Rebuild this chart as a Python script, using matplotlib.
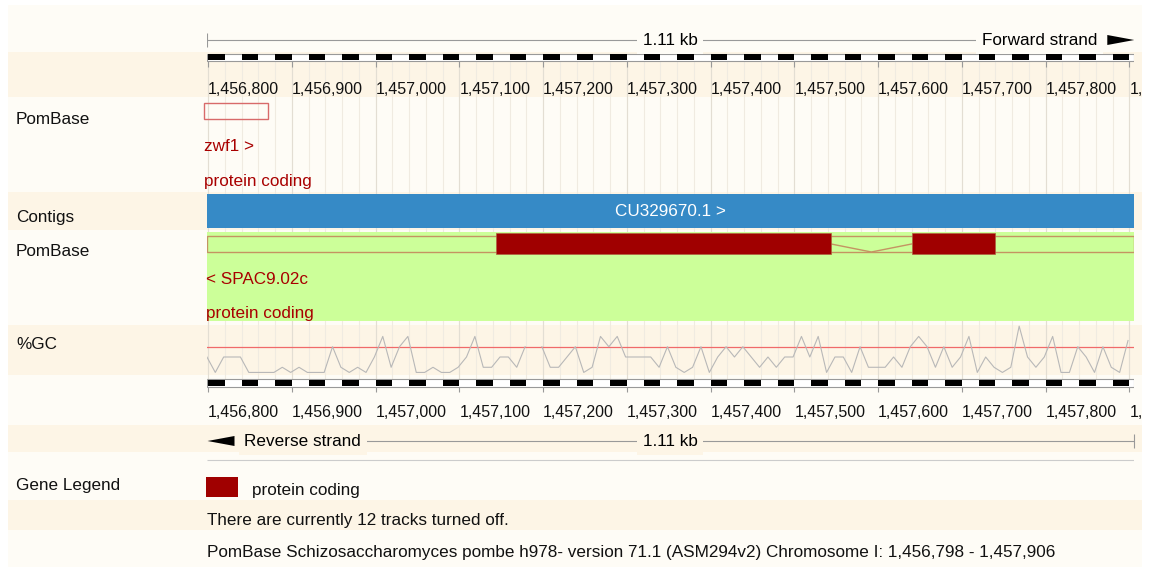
import numpy as np
import matplotlib.pyplot as plt
from matplotlib.patches import Rectangle, Polygon
from matplotlib.transforms import Bbox, TransformedBbox

plt.rcParams['font.family'] = ['Liberation Sans', 'DejaVu Sans']

# region shown (bp)
region_start = 1456798
region_end = 1457906
region_label = '1.11 kb'
ruler_ticks = [1456800, 1456900, 1457000, 1457100, 1457200, 1457300,
               1457400, 1457500, 1457600, 1457700, 1457800, 1457900]
track_labels = ['PomBase', 'Contigs', 'PomBase', '%GC', 'Gene Legend']

contig_name = 'CU329670.1 >'
zwf1_name = 'zwf1 >'
zwf1_utr = (1456795, 1456871)
spac_name = '< SPAC9.02c'
spac_utr = (1456798, 1457906)
spac_exons = [(1457144, 1457544), (1457640, 1457740)]
biotype = 'protein coding'

# %GC per 10 bp window (nan = no value)
gc_first = 1456798.5
gc_window = 10
gc_percent = [40, 25, 40, 40, 40, 25, 25, 25, 25, 30,
              25, 30, 25, 25, 25, 50, 30, 25, 30, 25,
              40, 60, 30, 50, 60, 25, 25, 30, 25, 25,
              30, 40, 60, 30, 30, 40, 40, 30, 50, np.nan,
              50, 30, 30, 40, 50, 25, 30, 60, 50, 60,
              40, 40, 40, 40, 30, 50, 30, 25, 30, 50,
              25, 40, 50, 40, 50, 40, 30, 40, 30, 40,
              40, 60, 40, 60, 25, 40, 40, 25, 50, 30,
              30, 30, 40, 30, 50, 60, 50, 30, 50, 30,
              40, 60, 25, 40, 30, 25, 30, 70, 40, 30,
              40, 60, 25, 25, 50, 40, 25, 50, 30, 25,
              56]

footer_1 = 'There are currently 12 tracks turned off.'
footer_2 = ('PomBase Schizosaccharomyces pombe h978- version 71.1 (ASM294v2) '
            'Chromosome I: 1,456,798 - 1,457,906')

W, H = 1155, 567
X0, X1 = 206.5, 1134.3
light, dark = '#fefcf6', '#fdf5e6'
red_text = '#a80000'
gene_red = '#a00000'
grey = '#999999'
FS = 12.3
TICK_FS = 11.5

fig = plt.figure(figsize=(W / 100, H / 100), dpi=100)
fig.patch.set_facecolor('white')

# background bands and left labels (pixel coords)
bg = fig.add_axes([0, 0, 1, 1])
bg.set_xlim(0, W)
bg.set_ylim(H, 0)
bg.set_axis_off()
bands = [(5, 52, light), (52, 97, dark), (97, 192, light), (192, 230, dark),
         (230, 325, light), (325, 375, dark), (375, 425, light), (425, 452, dark),
         (452, 500, light), (500, 530, dark), (530, 567, light)]
for top, bot, c in bands:
    bg.add_patch(Rectangle((8, top), 1134, bot - top, fc=c, ec='none'))

for lab, yb in zip(track_labels, [124, 222, 256, 349, 490]):
    bg.text(16, yb, lab, fontsize=FS, va='baseline', color='#111111')

bg.add_patch(Rectangle((206, 477), 32, 20, fc=gene_red, ec='none'))
bg.text(252, 495, biotype, fontsize=FS, va='baseline', color='#111111')
bg.text(207, 525, footer_1, fontsize=FS, va='baseline', color='#111111')
bg.text(207, 557, footer_2, fontsize=FS, va='baseline', color='#111111')

# genome track axes: x in bp, y in pixel rows
tr = fig.add_axes([X0 / W, 0, (X1 - X0) / W, 1])
tr.set_xlim(region_start, region_end)
tr.set_ylim(H, 0)
tr.set_axis_off()
tr.patch.set_alpha(0)
bpx = (region_end - region_start) / (X1 - X0)
mid = (region_start + region_end) / 2
clipbox = TransformedBbox(Bbox.from_extents(0, 0, 1141 / W, 1), fig.transFigure)

# faint grid
grid = np.arange(ruler_ticks[0], region_end, 20)
tr.vlines(grid, 61, 387, color='#f0ebe1', lw=0.8, zorder=0)
tr.vlines(ruler_ticks, 61, 387, color='#e3ded3', lw=0.8, zorder=0)


def ruler(y_bar, y_lab):
    tr.add_patch(Rectangle((region_start, y_bar), region_end - region_start, 7.5,
                           fc='white', ec=grey, lw=0.8, zorder=3))
    for b in range(ruler_ticks[0], region_end, 40):
        tr.add_patch(Rectangle((b, y_bar + 0.8), min(20, region_end - b), 6,
                               fc='black', ec='none', zorder=4))
    tr.vlines(ruler_ticks, y_bar + 7.5, y_bar + 13, color=grey, lw=0.8, zorder=3)
    for t in ruler_ticks:
        txt = tr.text(t, y_lab, f'{t:,}', fontsize=TICK_FS, va='baseline', ha='left',
                      color='#111111')
        # the last label runs off the panel edge, as in the browser image
        txt.set_clip_on(True)
        txt.set_clip_path(None)
        txt.set_clip_box(clipbox)


ruler(53.5, 94)
ruler(379, 417)

# forward strand header
tr.hlines(40, region_start, region_end - 40 * bpx, color=grey, lw=0.8)
tr.vlines(region_start, 33, 47, color=grey, lw=0.8)
tr.text(mid, 45, region_label, ha='center', va='baseline', fontsize=FS,
        bbox=dict(fc=light, ec='none', pad=4))
tr.text(region_end - 37 * bpx, 45, 'Forward strand', ha='right', va='baseline',
        fontsize=FS, bbox=dict(fc=light, ec='none', pad=4))
tr.add_patch(Polygon([(region_end - 27 * bpx, 35), (region_end, 40),
                      (region_end - 27 * bpx, 45)], fc='black', ec='none'))

# reverse strand footer
tr.hlines(441, region_start + 40 * bpx, region_end, color=grey, lw=0.8)
tr.vlines(region_end, 434, 448, color=grey, lw=0.8, clip_on=False)
tr.text(mid, 446, region_label, ha='center', va='baseline', fontsize=FS,
        bbox=dict(fc=dark, ec='none', pad=4))
tr.text(region_start + 38 * bpx, 446, 'Reverse strand', ha='left', va='baseline',
        fontsize=FS, bbox=dict(fc=dark, ec='none', pad=4))
tr.add_patch(Polygon([(region_start + 28 * bpx, 436), (region_start + 1 * bpx, 441),
                      (region_start + 28 * bpx, 446)], fc='black', ec='none'))
tr.hlines(460, region_start, region_end, color='#cccccc', lw=0.8)

# zwf1
tr.add_patch(Rectangle((zwf1_utr[0], 103), zwf1_utr[1] - zwf1_utr[0], 16,
                       fill=False, ec='#d86a6a', lw=1, clip_on=False, zorder=3))
tr.text(zwf1_utr[0], 151, zwf1_name, fontsize=FS, va='baseline', color=red_text)
tr.text(zwf1_utr[0], 186, biotype, fontsize=FS, va='baseline', color=red_text)

# contig
tr.add_patch(Rectangle((region_start, 194), region_end - region_start, 34,
                       fc='#368ac6', ec='none', zorder=2))
tr.text(mid, 211, contig_name, ha='center', va='center', fontsize=FS,
        color='white', zorder=3)

# SPAC9.02c
tr.add_patch(Rectangle((region_start, 231.5), region_end - region_start, 89.5,
                       fc='#ccff99', ec='none', zorder=2))
tr.add_patch(Rectangle((spac_utr[0], 236), spac_utr[1] - spac_utr[0], 16,
                       fill=False, ec='#c49462', lw=1, zorder=3))
for s, e in spac_exons:
    tr.add_patch(Rectangle((s, 233.3), e - s, 21, fc=gene_red, ec='#b06040',
                           lw=0.5, zorder=4))
for (s1, e1), (s2, e2) in zip(spac_exons[:-1], spac_exons[1:]):
    tr.plot([e1, (e1 + s2) / 2, s2], [244, 252, 244], color='#c49462', lw=1, zorder=3)
tr.text(region_start, 284, spac_name, fontsize=FS, va='baseline', color=red_text, zorder=5)
tr.text(region_start, 318, biotype, fontsize=FS, va='baseline', color=red_text, zorder=5)

# %GC track
gc = fig.add_axes([X0 / W, 1 - 375 / H, (X1 - X0) / W, 50 / H])
gc.set_xlim(region_start, region_end)
gc.set_ylim(22.5, 71.1)
gc.set_axis_off()
gc.patch.set_alpha(0)
gc_pos = gc_first + gc_window * np.arange(len(gc_percent))
gc.axhline(50, color='#f06a6a', lw=0.9)
gc.plot(gc_pos, gc_percent, color='#b8b8b8', lw=0.8)

fig.savefig('out.png', dpi=100, facecolor='white')
